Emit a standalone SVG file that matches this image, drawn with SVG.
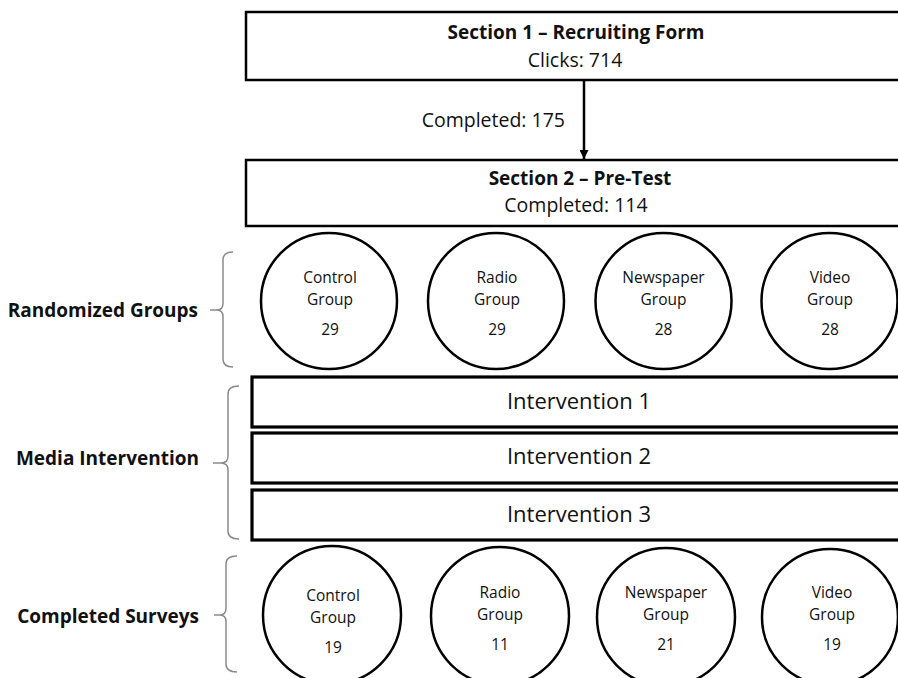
<svg xmlns="http://www.w3.org/2000/svg" width="898" height="678" viewBox="0 0 898 678">
<defs>
<style>
.box{fill:#fff;stroke:#000;stroke-width:2.5}
.ibox{fill:#fff;stroke:#000;stroke-width:3.2}
.circ{fill:#fff;stroke:#000;stroke-width:2.5}
.brace{fill:none;stroke:#8a8a8a;stroke-width:1.5}
.t{font-family:"Open Sans","Noto Sans",sans-serif;fill:#111;text-anchor:middle}
.title{font-size:19px;font-weight:bold}
.sub{font-size:19.5px}
.ctext{font-size:15.5px}
.itext{font-size:22px}
.lab{font-family:"Open Sans","Noto Sans",sans-serif;fill:#111;font-size:19px;font-weight:bold;text-anchor:end}
</style>
<marker id="arr" viewBox="0 0 10 10" refX="10" refY="5" markerWidth="9" markerHeight="9" markerUnits="userSpaceOnUse" orient="auto">
<path d="M0,0 L10,5 L0,10 z" fill="#000"/>
</marker>
</defs>
<rect width="898" height="678" fill="#fff"/>

<g id="connectors">
<line x1="584" y1="80" x2="584" y2="159" stroke="#000" stroke-width="2.5" marker-end="url(#arr)"/>
<text class="t sub" x="565" y="127" style="text-anchor:end">Completed: 175</text>
</g>

<g id="section1">
<rect class="box" x="246" y="12" width="700" height="68"/>
<text class="t title" x="576" y="39">Section 1 – Recruiting Form</text>
<text class="t sub" x="575" y="67">Clicks: 714</text>
</g>

<g id="section2">
<rect class="box" x="246" y="160" width="700" height="66"/>
<text class="t title" x="580" y="185">Section 2 – Pre-Test</text>
<text class="t sub" x="576" y="212">Completed: 114</text>
</g>

<g id="randomized-label">
<path class="brace" d="M233,252 Q223,252 223,260 L223,303 Q223,310 217,310 L210,310 M217,310 Q223,310 223,317 L223,359 Q223,367 233,367"/>
<text class="lab" x="198" y="317">Randomized Groups</text>
</g>

<g id="rg-control">
<circle class="circ" cx="329" cy="301" r="68"/>
<text class="t ctext" x="330" y="283">Control</text>
<text class="t ctext" x="330" y="305">Group</text>
<text class="t ctext" x="330" y="335">29</text>
</g>
<g id="rg-radio">
<circle class="circ" cx="496" cy="301" r="68"/>
<text class="t ctext" x="497" y="283">Radio</text>
<text class="t ctext" x="497" y="305">Group</text>
<text class="t ctext" x="497" y="335">29</text>
</g>
<g id="rg-newspaper">
<circle class="circ" cx="663.5" cy="301" r="68"/>
<text class="t ctext" x="663.5" y="283">Newspaper</text>
<text class="t ctext" x="663.5" y="305">Group</text>
<text class="t ctext" x="663.5" y="335">28</text>
</g>
<g id="rg-video">
<circle class="circ" cx="829.5" cy="301" r="68"/>
<text class="t ctext" x="830" y="283">Video</text>
<text class="t ctext" x="830" y="305">Group</text>
<text class="t ctext" x="830" y="335">28</text>
</g>

<g id="media-label">
<path class="brace" d="M239,386 Q228,386 228,394 L228,456 Q228,463 221,463 L213,463 M221,463 Q228,463 228,470 L228,531 Q228,539 239,539"/>
<text class="lab" x="199" y="465">Media Intervention</text>
</g>

<g id="intervention1">
<rect class="ibox" x="252" y="377" width="700" height="50"/>
<text class="t itext" x="579" y="409">Intervention 1</text>
</g>
<g id="intervention2">
<rect class="ibox" x="252" y="433" width="700" height="50"/>
<text class="t itext" x="579" y="464">Intervention 2</text>
</g>
<g id="intervention3">
<rect class="ibox" x="252" y="490" width="700" height="50"/>
<text class="t itext" x="579" y="522">Intervention 3</text>
</g>

<g id="completed-label">
<path class="brace" d="M237,556 Q226,556 226,564 L226,608 Q226,615 220,615 L214,615 M220,615 Q226,615 226,622 L226,664 Q226,672 237,672"/>
<text class="lab" x="199" y="623">Completed Surveys</text>
</g>

<g id="cs-control">
<circle class="circ" cx="332" cy="615" r="69"/>
<text class="t ctext" x="333" y="601">Control</text>
<text class="t ctext" x="333" y="623">Group</text>
<text class="t ctext" x="333" y="653">19</text>
</g>
<g id="cs-radio">
<circle class="circ" cx="500" cy="616" r="69"/>
<text class="t ctext" x="500" y="598">Radio</text>
<text class="t ctext" x="500" y="620">Group</text>
<text class="t ctext" x="500" y="650">11</text>
</g>
<g id="cs-newspaper">
<circle class="circ" cx="666" cy="617" r="69"/>
<text class="t ctext" x="666" y="598">Newspaper</text>
<text class="t ctext" x="666" y="620">Group</text>
<text class="t ctext" x="666" y="650">21</text>
</g>
<g id="cs-video">
<circle class="circ" cx="830" cy="617" r="68"/>
<text class="t ctext" x="832" y="598">Video</text>
<text class="t ctext" x="832" y="620">Group</text>
<text class="t ctext" x="832" y="650">19</text>
</g>
</svg>
